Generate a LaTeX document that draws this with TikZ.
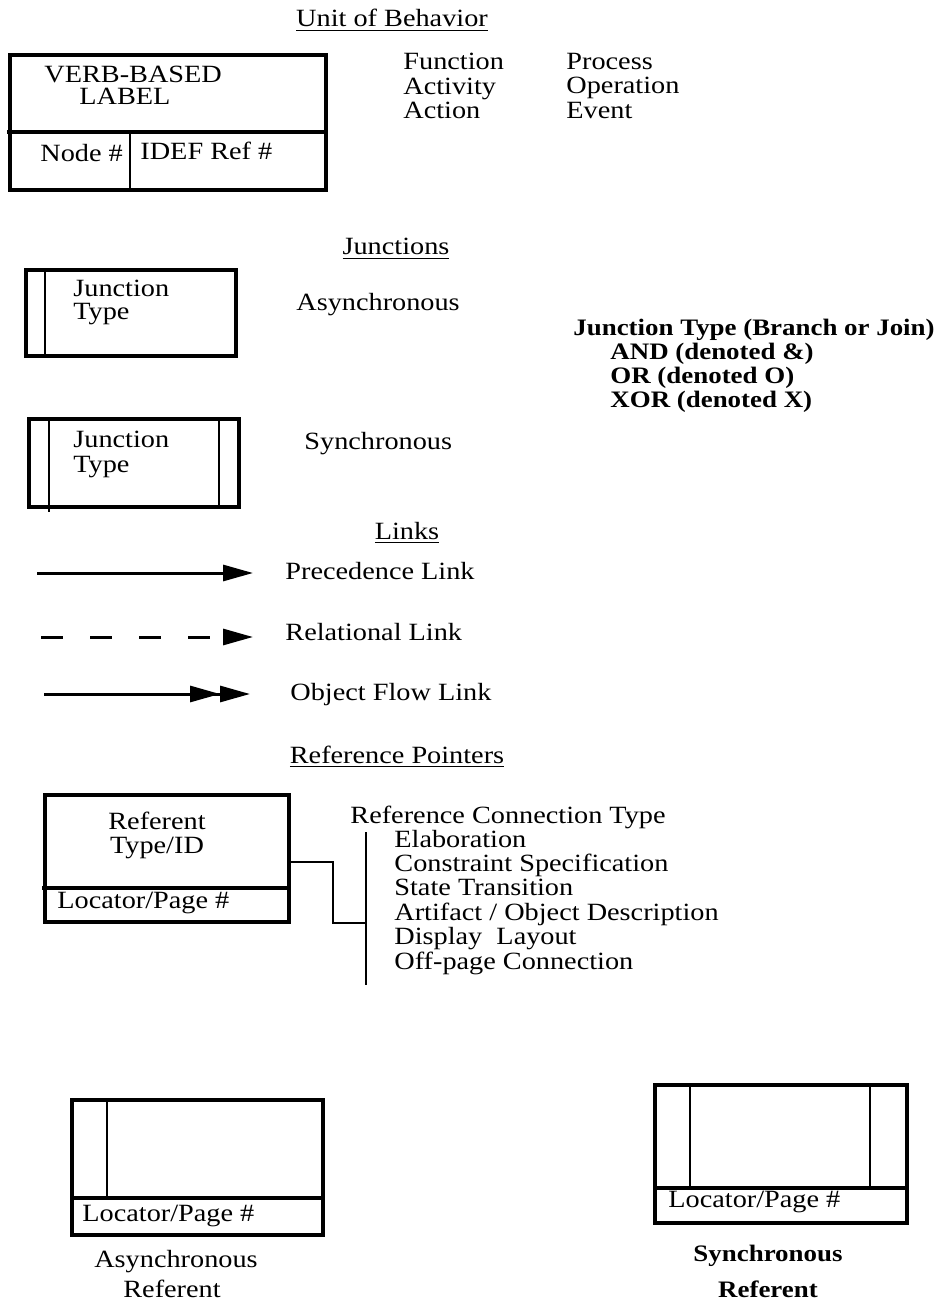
\documentclass[tikz,border=0pt]{standalone}
\usepackage{fontspec}
\setmainfont{Liberation Serif}[FakeStretch=1.14]
\usetikzlibrary{arrows.meta}

\begin{document}
\begin{tikzpicture}[x=0.5pt, y=-0.5pt,
    txt/.style={font=\fontsize{12.4}{13.4}\selectfont, inner sep=0pt, anchor=base west},
    ctr/.style={txt, anchor=base},
    bld/.style={txt, font=\fontsize{11.8}{13}\selectfont\bfseries},
    box/.style={line width=1.6pt},
    divline/.style={line width=1.3pt},
    lnk/.style={line width=1.5pt},
    >={Triangle[length=15pt, width=8pt]}]
    \useasboundingbox (0,0) rectangle (945,1304);
    % Unitate de comportament
    \node[ctr] (uobt) at (392,27) {\underline{Unit of Behavior}};
    \draw[box] (10,55) rectangle (326,190);
    \draw[box] (7,132) -- (326,132);
    \draw[divline] (130,132) -- (130,190);
    \node[txt] (verb) at (44,83) {VERB-BASED};
    \node[txt] (label) at (79,105) {LABEL};
    \node[txt] (nodenr) at (40,162) {Node \#};
    \node[txt] (idef) at (140,160) {IDEF Ref \#};
    % Sinonime
    \foreach \t/\y [count=\i] in {Function/70, Activity/95, Action/119} {
      \node[txt] (fa\i) at (403,\y) {\t};
    }
    \foreach \t/\y [count=\i] in {Process/70, Operation/94, Event/119} {
      \node[txt] (pe\i) at (566,\y) {\t};
    }
    % Jonctiuni
    \node[ctr] (junt) at (396,255) {\underline{Junctions}};
    \draw[box] (26,270) rectangle (236,356);
    \draw[divline] (45,270) -- (45,356);
    \node[txt] (aj1) at (73,297) {Junction};
    \node[txt] (aj2) at (73,320) {Type};
    \node[txt] (async) at (296,311) {Asynchronous};
    \draw[box] (29,419) rectangle (239,507);
    \draw[divline] (49,419) -- (49,512);
    \draw[divline] (219,419) -- (219,507);
    \node[txt] (sj1) at (73,447) {Junction};
    \node[txt] (sj2) at (73,472) {Type};
    \node[txt] (sync) at (304,449) {Synchronous};
    % Tipuri de jonctiuni
    \node[bld] (jtype) at (573,336) {Junction Type (Branch or Join)};
    \foreach \t/\y [count=\i] in {AND (denoted \&)/360, OR (denoted O)/384, XOR (denoted X)/408} {
      \node[bld] (jt\i) at (610,\y) {\t};
    }
    % Legaturi
    \node[ctr] (lnkt) at (407,539) {\underline{Links}};
    \coordinate (pa) at (37,573);
    \coordinate (pb) at (253,573);
    \draw[lnk, ->] (pa) -- (pb);
    \node[txt] (prec) at (285,579) {Precedence Link};
    \coordinate (ra) at (41,637);
    \coordinate (rb) at (253,637);
    \draw[lnk, ->, dash pattern=on 11pt off 13.5pt] (ra) -- (rb);
    \node[txt] (rel) at (285,640) {Relational Link};
    \coordinate (oa) at (44,694);
    \coordinate (ob) at (250,694);
    \draw[lnk, ->>] (oa) -- (ob);
    \node[txt] (objf) at (290,700) {Object Flow Link};
    % Pointeri de referinta
    \node[ctr] (reft) at (397,763) {\underline{Reference Pointers}};
    \draw[box] (45,795) rectangle (289,922);
    \draw[box] (42,888) -- (289,888);
    \node[ctr] (refnt) at (157,829) {Referent};
    \node[ctr] (refid) at (157,853) {Type/ID};
    \node[txt] (loc) at (57,908) {Locator/Page \#};
    \node[txt] (rct) at (350,823) {Reference Connection Type};
    \foreach \t [count=\i] in {Elaboration, Constraint Specification, State Transition,
        Artifact / Object Description, Display~ Layout, Off-page Connection} {
      \node[txt] (rc\i) at (394,{822.6+24.4*\i}) {\t};
    }
    % Conector spre lista
    \coordinate (refr) at (289,862);
    \coordinate (knee) at (333,923);
    \coordinate (barmid) at (366,923);
    \coordinate (bartop) at (366,832);
    \coordinate (barbot) at (366,985);
    \draw[divline] (refr) -| (knee) -- (barmid);
    \draw[divline] (bartop) -- (barbot);
    % Referent asincron
    \draw[box] (72,1100) rectangle (323,1235);
    \draw[box] (72,1198) -- (323,1198);
    \draw[divline] (107,1100) -- (107,1198);
    \node[txt] (aloc) at (82,1221) {Locator/Page \#};
    \node[ctr] (aref1) at (176,1267) {Asynchronous};
    \node[ctr] (aref2) at (172,1297) {Referent};
    % Referent sincron
    \draw[box] (655,1085) rectangle (907,1223);
    \draw[box] (655,1188) -- (907,1188);
    \draw[divline] (690,1085) -- (690,1188);
    \draw[divline] (870,1085) -- (870,1188);
    \node[txt] (sloc) at (668,1207) {Locator/Page \#};
    \node[ctr, bld, anchor=base] (sref1) at (768,1261) {Synchronous};
    \node[ctr, bld, anchor=base] (sref2) at (768,1297) {Referent};
\end{tikzpicture}
\end{document}
